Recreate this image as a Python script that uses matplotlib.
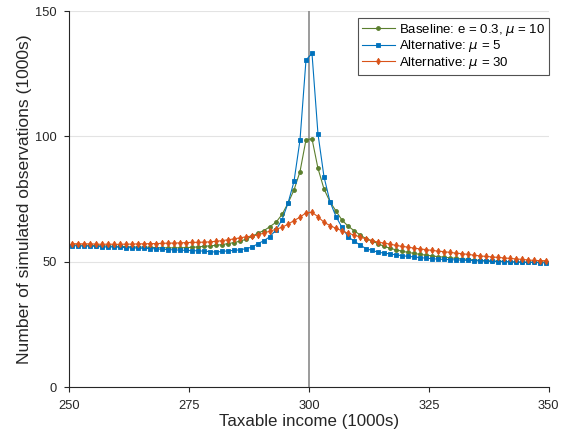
import numpy as np
import matplotlib
matplotlib.use("Agg")
import matplotlib.pyplot as plt

plt.rcParams['font.family'] = ['Liberation Sans', 'DejaVu Sans']

# bin centers (1000s): 80 bins of width 1.25 between 250 and 350
bin_edges_lo = 250.0
bin_width = 1.25
n_bins = 80
income = bin_edges_lo + bin_width * (np.arange(n_bins) + 0.5)

baseline = [
    56.8, 56.7, 56.6, 56.6, 56.5, 56.4, 56.3, 56.2, 56.2, 56.1,
    56.0, 55.9, 55.9, 55.8, 55.7, 55.6, 55.6, 55.6, 55.6, 55.7,
    55.8, 56.0, 56.2, 56.4, 56.6, 56.9, 57.3, 57.7, 58.3, 59.0,
    60.2, 61.5, 62.5, 64.1, 65.8, 68.9, 73.4, 78.7, 86.0, 98.7,
    99.1, 87.3, 79.1, 74.0, 70.3, 66.7, 64.3, 62.5, 60.8, 59.3,
    58.3, 57.3, 56.2, 55.5, 54.8, 54.3, 53.8, 53.4, 53.0, 52.7,
    52.4, 52.1, 51.9, 51.6, 51.4, 51.2, 51.0, 50.8, 50.6, 50.5,
    50.4, 50.3, 50.2, 50.1, 50.0, 49.9, 49.9, 49.9, 49.9, 50.0,
]

alt_mu5 = [
    56.5, 56.4, 56.3, 56.3, 56.2, 56.0, 55.9, 56.0, 55.8, 55.7,
    55.6, 55.5, 55.4, 55.3, 55.2, 55.0, 54.9, 54.8, 54.7, 54.6,
    54.5, 54.4, 54.3, 54.1, 53.9, 54.2, 54.4, 54.6, 54.8, 55.3,
    55.9, 57.3, 58.5, 60.1, 62.8, 66.8, 73.4, 82.1, 98.6, 130.5,
    133.1, 101.0, 84.0, 74.0, 68.1, 63.8, 60.1, 58.3, 56.8, 55.3,
    54.6, 53.9, 53.5, 53.2, 52.8, 52.5, 52.2, 52.0, 51.7, 51.5,
    51.3, 51.1, 51.0, 50.9, 50.8, 50.7, 50.6, 50.5, 50.4, 50.3,
    50.2, 50.1, 50.1, 50.0, 49.9, 49.9, 49.8, 49.8, 49.7, 49.6,
]

alt_mu30 = [
    57.3, 57.2, 57.2, 57.2, 57.1, 57.0, 57.1, 57.0, 57.0, 57.1,
    57.1, 57.2, 57.2, 57.3, 57.3, 57.4, 57.5, 57.5, 57.6, 57.7,
    57.8, 57.8, 57.9, 58.0, 58.2, 58.5, 58.8, 59.2, 59.6, 60.0,
    60.3, 60.8, 61.5, 62.3, 63.0, 63.8, 65.0, 66.5, 67.8, 69.6,
    69.8, 68.0, 65.8, 64.5, 63.4, 62.4, 61.4, 60.8, 59.9, 59.2,
    58.5, 57.9, 57.5, 57.1, 56.6, 56.2, 55.9, 55.5, 55.2, 54.9,
    54.6, 54.3, 54.1, 53.8, 53.5, 53.3, 53.0, 52.7, 52.4, 52.2,
    52.0, 51.8, 51.6, 51.4, 51.2, 51.0, 50.8, 50.6, 50.5, 50.5,
]

labels = [r'Baseline: e = 0.3, $\mu$ = 10',
          r'Alternative: $\mu$ = 5',
          r'Alternative: $\mu$ = 30']
colors = ['#5B7F2E', '#0072BD', '#D95319']
markers = ['o', 's', 'd']
msizes = [2.8, 2.3, 3.3]

xticks = [250, 275, 300, 325, 350]
yticks = [0, 50, 100, 150]

fig = plt.figure(figsize=(5.68, 4.43), dpi=100)
ax = fig.add_axes([0.122, 0.1257, 0.844, 0.8493])

ax.axvline(300, color='#808080', lw=1.1, zorder=1)
for y, lab, c, m, ms in zip([baseline, alt_mu5, alt_mu30], labels, colors, markers, msizes):
    ax.plot(income, y, color=c, lw=0.8, marker=m, ms=ms, mec=c, mfc=c,
            mew=0.6, label=lab, zorder=3)

ax.set_xlim(250, 350)
ax.set_ylim(0, 150)
ax.set_xticks(xticks)
ax.set_yticks(yticks)
ax.yaxis.grid(True, color='#e3e3e3', lw=0.8)
ax.set_axisbelow(True)
for s in ['top', 'right']:
    ax.spines[s].set_visible(False)
for s in ['left', 'bottom']:
    ax.spines[s].set_color('#262626')
    ax.spines[s].set_linewidth(0.8)
ax.tick_params(direction='out', length=3.6, width=0.8, colors='#262626',
               labelsize=9.3, labelcolor='#262626', pad=5.3)
ax.set_xlabel('Taxable income (1000s)', fontsize=12.2, color='#262626', labelpad=1.5)
ax.set_ylabel('Number of simulated observations (1000s)', fontsize=12.6,
              color='#262626', labelpad=2.0)

leg = ax.legend(loc='upper right', bbox_to_anchor=(1.0, 1 - 7 / 376.3),
                fontsize=9.5, frameon=True, fancybox=False,
                edgecolor='#262626', borderaxespad=0.0, handlelength=2.5,
                handletextpad=0.3, labelspacing=0.02, borderpad=0.3)
leg.get_frame().set_linewidth(0.8)

fig.savefig('out.png', dpi=100)
